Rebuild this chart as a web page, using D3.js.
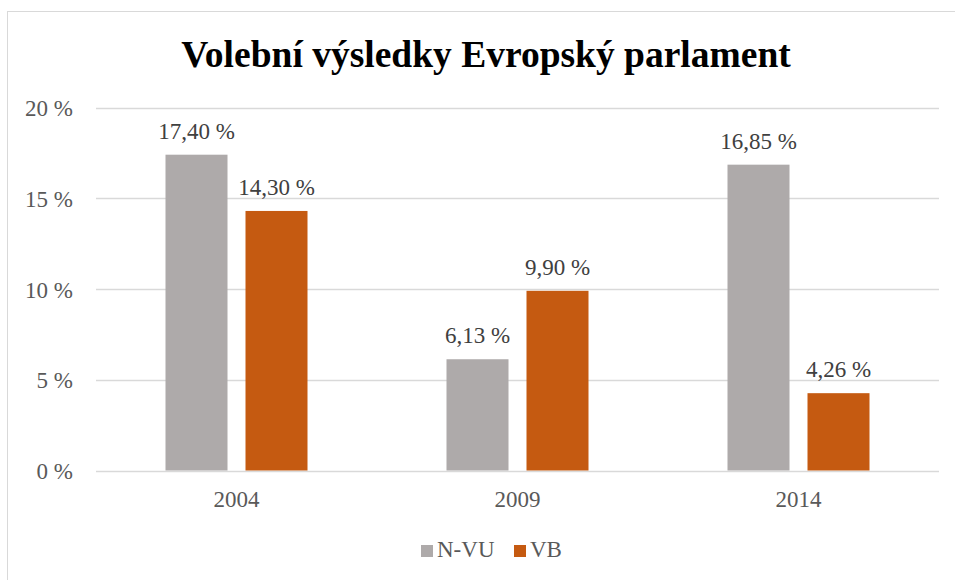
<!DOCTYPE html>
<html><head><meta charset="utf-8">
<script src="https://cdn.jsdelivr.net/npm/d3@7"></script>
<style>body{margin:0;background:#fff}svg{display:block}</style>
</head><body>
<script>
const categories = ["2004","2009","2014"];
const seriesNames = ["N-VU","VB"];
const nvu = [17.40, 6.13, 16.85];
const vb = [14.30, 9.90, 4.26];
const yTicks = [0,5,10,15,20];
const colors = ["#AEAAAA","#C55A11"];

(function(){
const W=955,H=580;
const svg=d3.select("body").append("svg").attr("width",W).attr("height",H);
svg.append("rect").attr("x",7.5).attr("y",11.5).attr("width",960).attr("height",600)
  .attr("fill","#fff").attr("stroke","#d9d9d9").attr("stroke-width",1);

const font="Liberation Serif, Times New Roman, serif";
svg.append("text").attr("x",486).attr("y",67).attr("text-anchor","middle")
  .attr("font-family",font).attr("font-weight","bold").attr("font-size",37.5).attr("fill","#000")
  .text("Volební výsledky Evropský parlament");

const pLeft=96,pRight=939,pTop=107.5,pBottom=470.5;
const x0=d3.scaleBand().domain(categories).range([pLeft,pRight]);
const y=d3.scaleLinear().domain([0,20]).range([pBottom,pTop]);

const grid=svg.append("g");
grid.selectAll("line").data(yTicks).join("line")
  .attr("x1",pLeft).attr("x2",pRight).attr("y1",d=>Math.round(y(d))+0.5).attr("y2",d=>Math.round(y(d))+0.5)
  .attr("stroke","#d9d9d9").attr("stroke-width",1.3);

const yAxis=d3.axisLeft(y).tickValues(yTicks).tickSize(0).tickPadding(0).tickFormat(d=>d+" %");
const ga=svg.append("g").attr("transform",`translate(73,0)`).call(yAxis);
ga.select(".domain").remove();
ga.selectAll("text").attr("font-family",font).attr("font-size",23).attr("fill","#595959").attr("dy","0.35em");

const xAxis=d3.axisBottom(x0).tickSize(0).tickPadding(0);
const gx=svg.append("g").attr("transform",`translate(0,${pBottom+28})`).call(xAxis);
gx.select(".domain").remove();
gx.selectAll("text").attr("font-family",font).attr("font-size",23).attr("fill","#595959").attr("dy","0.35em");

const catCenter = c => x0(c)+x0.bandwidth()/2;
const x1=d3.scaleBand().domain(seriesNames).range([-71,71]).paddingInner(18/80);
const data=[];
categories.forEach((c,i)=>{data.push({c,s:"N-VU",v:nvu[i]});data.push({c,s:"VB",v:vb[i]});});
const fmt=v=>v.toFixed(2).replace(".",",")+" %";

svg.append("g").selectAll("rect").data(data).join("rect")
  .attr("x",d=>catCenter(d.c)+x1(d.s)).attr("width",x1.bandwidth())
  .attr("y",d=>y(d.v)).attr("height",d=>pBottom-y(d.v))
  .attr("fill",d=>colors[seriesNames.indexOf(d.s)]);

svg.append("g").selectAll("text").data(data).join("text")
  .attr("x",d=>catCenter(d.c)+x1(d.s)+x1.bandwidth()/2).attr("y",d=>y(d.v)-16)
  .attr("text-anchor","middle").attr("font-family",font).attr("font-size",23).attr("fill","#404040")
  .text(d=>fmt(d.v));

const lg=svg.append("g");
const items=[{n:"N-VU",x:421},{n:"VB",x:514}];
items.forEach((it,i)=>{
  lg.append("rect").attr("x",it.x).attr("y",545).attr("width",12).attr("height",12).attr("fill",colors[i]);
  lg.append("text").attr("x",it.x+16).attr("y",557).attr("font-family",font).attr("font-size",23).attr("fill","#595959").text(it.n);
});
})();
</script>
</body></html>
